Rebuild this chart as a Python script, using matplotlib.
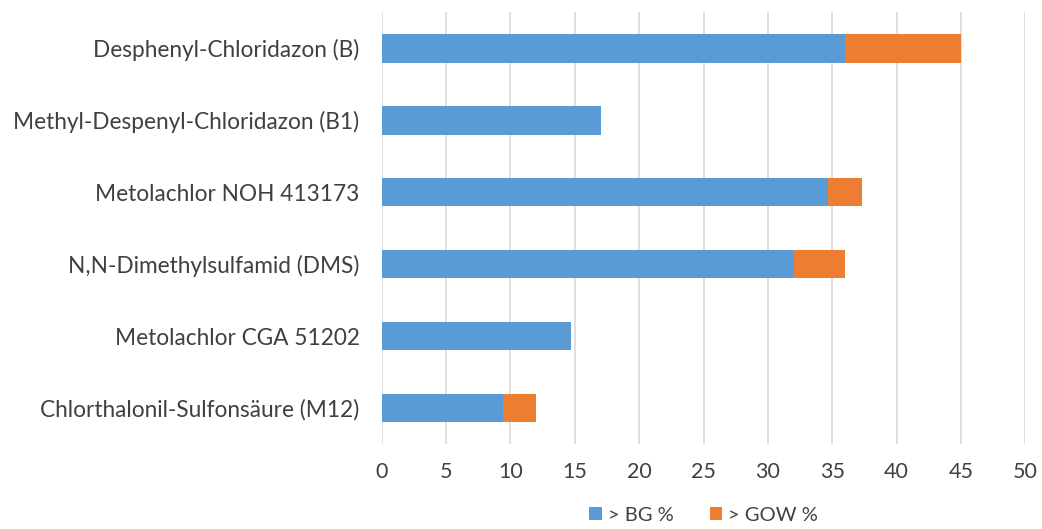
import matplotlib
matplotlib.use("Agg")
import matplotlib.pyplot as plt
import numpy as np

plt.rcParams["font.family"] = ["Lato", "DejaVu Sans"]

categories = [
    "Desphenyl-Chloridazon (B)",
    "Methyl-Despenyl-Chloridazon (B1)",
    "Metolachlor NOH 413173",
    "N,N-Dimethylsulfamid (DMS)",
    "Metolachlor CGA 51202",
    "Chlorthalonil-Sulfonsäure (M12)",
]
bg_pct = [36.0, 17.0, 34.7, 32.0, 14.7, 9.4]     # > BG %
gow_pct = [9.0, 0.0, 2.6, 4.0, 0.0, 2.6]         # > GOW % (stacked on top)
xticks = [0, 5, 10, 15, 20, 25, 30, 35, 40, 45, 50]

BLUE = "#5B9BD5"
ORANGE = "#ED7D31"
TEXT = "#404040"

fig = plt.figure(figsize=(10.42, 5.29), dpi=100)
ax = fig.add_axes([0.3664, 0.1607, 0.6176, 0.8163])

y = np.arange(len(categories))
ax.barh(y, bg_pct, height=0.4, color=BLUE, label="> BG %", zorder=3)
ax.barh(y, gow_pct, left=bg_pct, height=0.4, color=ORANGE, label="> GOW %", zorder=3)

ax.set_xlim(0, 50)
ax.set_ylim(len(categories) - 0.5, -0.5)
ax.set_xticks(xticks)
ax.set_yticks(y)
ax.set_yticklabels(categories)
ax.tick_params(axis="both", length=0, colors=TEXT)
ax.tick_params(axis="y", pad=16, labelsize=16.3)
ax.tick_params(axis="x", pad=13, labelsize=15.5)
ax.grid(axis="x", color="#D9D9D9", lw=1.2, zorder=0)
for s in ax.spines.values():
    s.set_visible(False)

ax.legend(loc="upper center", bbox_to_anchor=(0.5, -0.122), ncol=2, frameon=False,
          fontsize=14.5, handlelength=0.6, handleheight=0.6, handletextpad=0.3,
          columnspacing=1.8, labelcolor=TEXT, borderaxespad=0.1)

fig.savefig("out.png", dpi=100)
